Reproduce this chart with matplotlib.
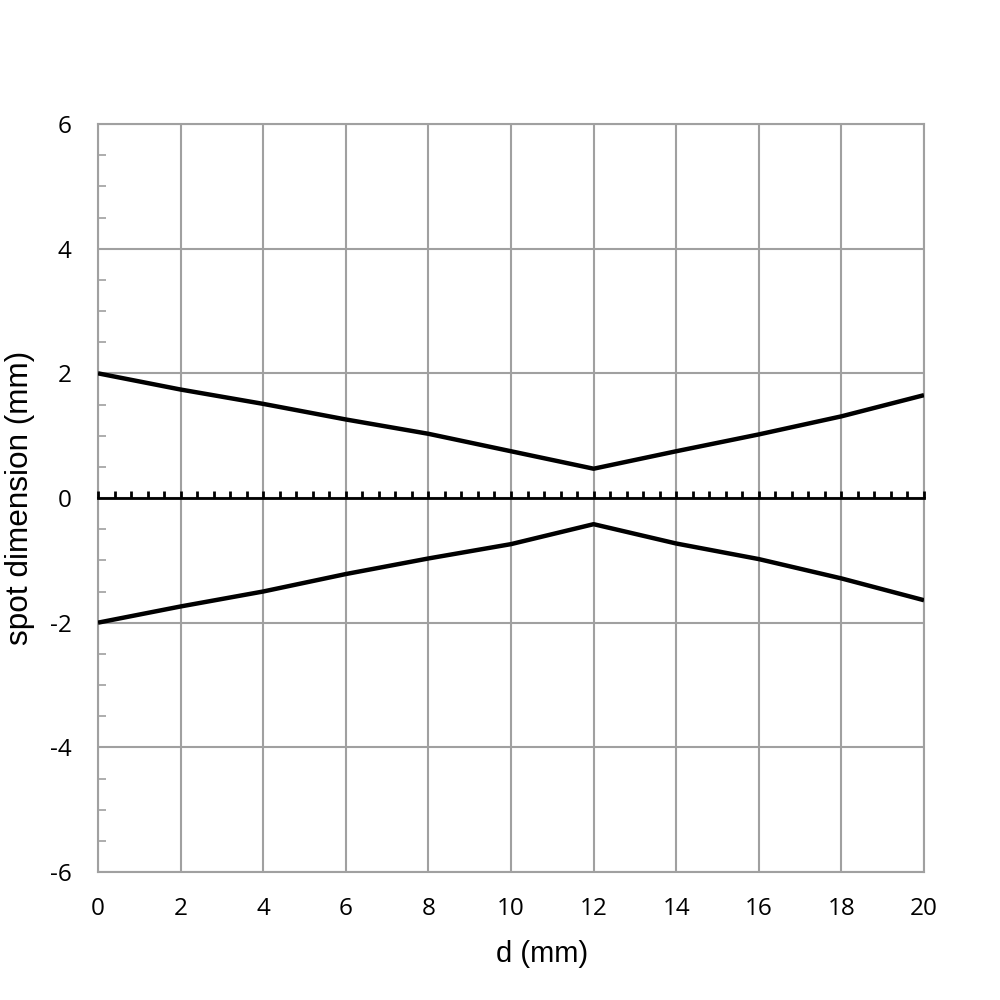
import matplotlib
matplotlib.use('Agg')
import matplotlib.pyplot as plt
from matplotlib.ticker import MultipleLocator

plt.rcParams['axes.unicode_minus'] = False

# beam spot profile vs distance
d = [0, 2, 4, 6, 8, 10, 12, 14, 16, 18, 20]
upper = [2.0, 1.74, 1.51, 1.26, 1.03, 0.75, 0.47, 0.75, 1.02, 1.31, 1.65]
lower = [-2.0, -1.74, -1.50, -1.22, -0.97, -0.74, -0.42, -0.73, -0.98, -1.29, -1.64]

grey = '#a0a0a0'

fig = plt.figure(figsize=(10, 10), dpi=100)
ax = fig.add_axes([0.098, 0.128, 0.826, 0.748])

ax.plot(d, upper, color='black', linewidth=3.2, solid_capstyle='butt', zorder=5)
ax.plot(d, lower, color='black', linewidth=3.2, solid_capstyle='butt', zorder=5)

ax.set_xlim(0, 20)
ax.set_ylim(-6, 6)
ax.xaxis.set_major_locator(MultipleLocator(2))
ax.yaxis.set_major_locator(MultipleLocator(2))
ax.yaxis.set_minor_locator(MultipleLocator(0.5))

ax.grid(True, which='major', color=grey, linewidth=1.5)
for s in ax.spines.values():
    s.set_color(grey)
    s.set_linewidth(1.5)

ax.tick_params(which='major', length=0, labelsize=17.5)
ax.tick_params(axis='x', which='major', pad=18)
ax.tick_params(axis='y', which='major', pad=19)
ax.tick_params(axis='y', which='minor', direction='in', length=6, width=1.2, color=grey)
for lab in ax.get_xticklabels() + ax.get_yticklabels():
    lab.set_family('Open Sans')

# zero line with its own ticks
zero = ax.secondary_xaxis(0.5)
zero.set_zorder(4)
zero.xaxis.set_major_locator(MultipleLocator(0.4))
zero.tick_params(direction='out', length=5, width=2, color='black', labelsize=0)
zero.set_xticklabels([])
zero.spines['top'].set_color('black')
zero.spines['top'].set_linewidth(2)

ax.set_xlabel('d (mm)', fontsize=21, family='Liberation Sans')
ax.set_ylabel('spot dimension (mm)', fontsize=22.7, family='Liberation Sans')
ax.xaxis.set_label_coords(0.5375, -0.091)
ax.yaxis.set_label_coords(-0.076, 0.5)

fig.savefig('out.png', dpi=100)
